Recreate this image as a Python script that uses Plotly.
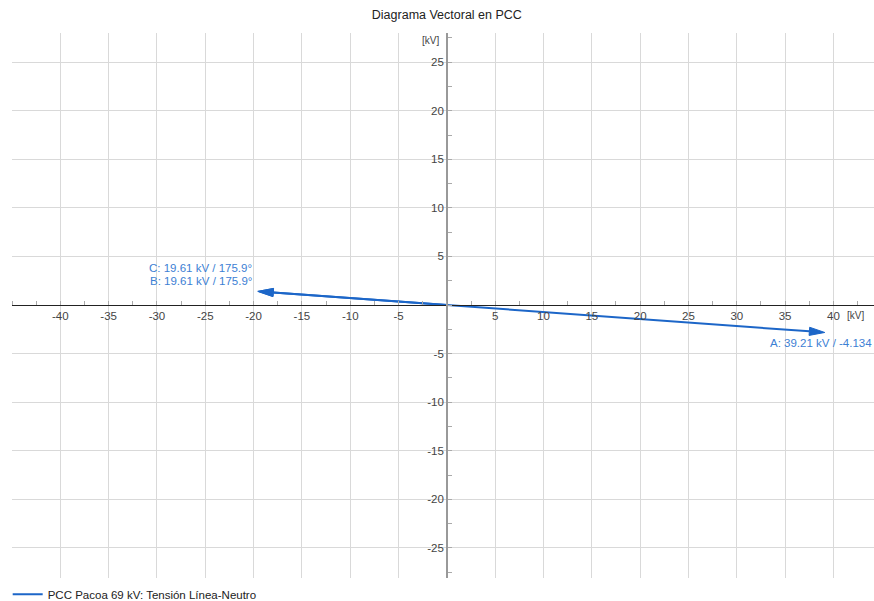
import math
import plotly.graph_objects as go

# Phasor data (line-to-neutral voltages at PCC)
phases = ["A", "B", "C"]
magnitudes_kv = [39.21, 19.61, 19.61]
angles_deg = [-4.134, 175.9, 175.9]
angle_text = ["-4.134", "175.9°", "175.9°"]

x_ticks = [-40, -35, -30, -25, -20, -15, -10, -5, 5, 10, 15, 20, 25, 30, 35, 40]
y_ticks = [-25, -20, -15, -10, -5, 5, 10, 15, 20, 25]

series_name = "PCC Pacoa 69 kV: Tensión Línea-Neutro"
title_text = "Diagrama Vectoral en PCC"

X_RANGE = [-45.0, 44.2]
Y_RANGE = [-28.1, 28.0]

LINE_COLOR = "rgb(28,102,200)"
LABEL_COLOR = "rgb(60,128,212)"
FONT = "Liberation Sans, Arial, sans-serif"

HEAD_LEN = 1.6   # arrowhead length (axis units)
HEAD_HALF = 0.42  # arrowhead half-width (axis units)

tips = []
for m, a in zip(magnitudes_kv, angles_deg):
    r = math.radians(a)
    tips.append((m * math.cos(r), m * math.sin(r)))

# shafts from origin up to the base of each arrowhead
sx, sy = [], []
hx, hy = [], []
for (tx, ty) in tips:
    L = math.hypot(tx, ty)
    ux, uy = tx / L, ty / L
    nx, ny = -uy, ux
    bx, by = tx - HEAD_LEN * ux, ty - HEAD_LEN * uy
    sx += [0, bx, None]
    sy += [0, by, None]
    hx += [tx, bx + HEAD_HALF * nx, bx - HEAD_HALF * nx, tx, None]
    hy += [ty, by + HEAD_HALF * ny, by - HEAD_HALF * ny, ty, None]

fig = go.Figure()
fig.add_trace(go.Scatter(
    x=sx, y=sy, mode="lines", name=series_name,
    line=dict(color=LINE_COLOR, width=2), hoverinfo="skip"))
fig.add_trace(go.Scatter(
    x=hx, y=hy, mode="lines", fill="toself", fillcolor=LINE_COLOR,
    line=dict(color=LINE_COLOR, width=1), showlegend=False, hoverinfo="skip"))

# vector labels
stack = {}
for p, m, at, (tx, ty), a in zip(phases, magnitudes_kv, angle_text, tips, angles_deg):
    key = (round(tx, 3), round(ty, 3))
    k = stack.get(key, 0)
    stack[key] = k + 1
    left_side = tx < 0
    fig.add_annotation(
        x=tx, y=ty, xref="x", yref="y",
        text=f"{p}: {m:.2f} kV / {at}", showarrow=False,
        font=dict(family=FONT, size=11.5, color=LABEL_COLOR),
        xanchor="right" if left_side else "center",
        yanchor="middle",
        xshift=-4 if left_side else -4,
        yshift=(10 + 13 * k) if left_side else -11,
    )

x0_frac = (0 - X_RANGE[0]) / (X_RANGE[1] - X_RANGE[0])
y0_frac = (0 - Y_RANGE[0]) / (Y_RANGE[1] - Y_RANGE[0])

tickfont = dict(family=FONT, size=11.5, color="#444")

fig.update_layout(
    width=874, height=601,
    margin=dict(l=12, r=0, t=33, b=23, autoexpand=False),
    paper_bgcolor="white", plot_bgcolor="white",
    title=dict(text=title_text, x=x0_frac * (874 - 12) / 874 + 12 / 874,
               xref="container", xanchor="center",
               y=1 - 15 / 601, yref="container", yanchor="middle",
               font=dict(family=FONT, size=12.5, color="#222")),
    showlegend=True,
    legend=dict(orientation="h", x=-0.005, xanchor="left", y=-0.03, yanchor="middle",
                font=dict(family=FONT, size=11.5, color="#222"),
                bgcolor="rgba(0,0,0,0)"),
    xaxis=dict(
        range=X_RANGE, anchor="free", position=y0_frac,
        tickmode="array", tickvals=x_ticks, ticktext=[str(v) for v in x_ticks],
        ticks="", showgrid=True, gridcolor="#d9d9d9", gridwidth=1,
        zeroline=False, showline=True, linecolor="#222", linewidth=1.2,
        tickfont=tickfont,
        minor=dict(tickmode="linear", tick0=0, dtick=2.5, ticks="inside",
                   ticklen=4, tickcolor="#aaa", showgrid=False),
        fixedrange=True,
    ),
    yaxis=dict(
        range=Y_RANGE, anchor="free", position=x0_frac,
        tickmode="array", tickvals=y_ticks, ticktext=[str(v) for v in y_ticks],
        ticks="", showgrid=True, gridcolor="#d9d9d9", gridwidth=1,
        zeroline=False, showline=True, linecolor="#999", linewidth=1.5,
        tickfont=tickfont,
        minor=dict(tickmode="linear", tick0=0, dtick=2.5, ticks="inside",
                   ticklen=4, tickcolor="#aaa", showgrid=False),
        fixedrange=True,
    ),
)

# unit labels on both axes
fig.add_annotation(xref="paper", yref="y", x=1, y=0, text="[kV]", showarrow=False,
                   xanchor="right", yanchor="top", xshift=-8, yshift=-3,
                   font=dict(family=FONT, size=10, color="#444"))
fig.add_annotation(xref="x", yref="paper", x=0, y=1, text="[kV]", showarrow=False,
                   xanchor="right", yanchor="top", xshift=-6, yshift=0,
                   font=dict(family=FONT, size=10, color="#444"))

fig.write_html("out.html")
